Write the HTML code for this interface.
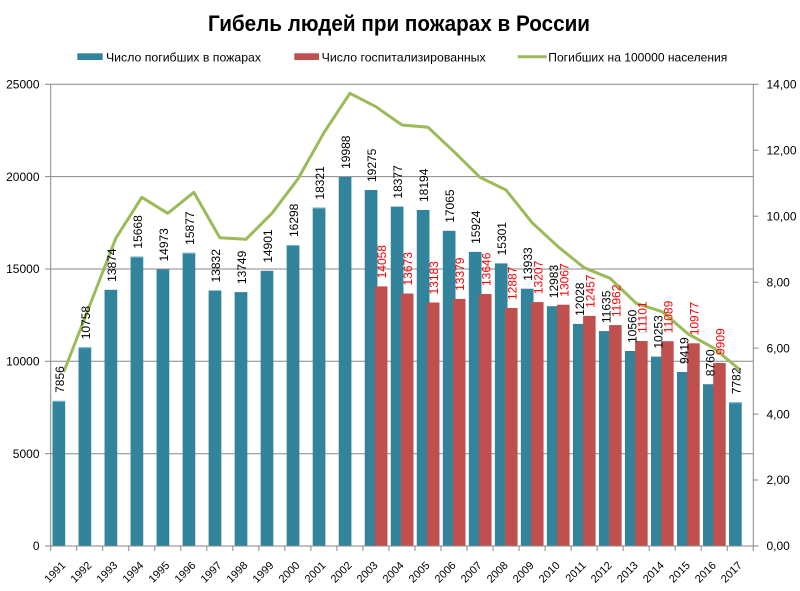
<!DOCTYPE html>
<html>
<head>
<meta charset="utf-8">
<style>
  html,body{margin:0;padding:0;background:#fff;}
  svg{display:block;}
  text{font-family:"Liberation Sans","DejaVu Sans",sans-serif;}
</style>
</head>
<body>
<svg width="800" height="591" viewBox="0 0 800 591" xmlns="http://www.w3.org/2000/svg">
  <rect x="0" y="0" width="800" height="591" fill="#ffffff"/>

  <!-- Title -->
  <text x="208" y="31" font-size="22" font-weight="bold" fill="#000" textLength="382" lengthAdjust="spacingAndGlyphs">Гибель людей при пожарах в России</text>

  <!-- Legend -->
  <rect x="77.3" y="53.3" width="25.4" height="6.7" fill="#31849B"/>
  <text x="106" y="61.5" font-size="12" fill="#000" textLength="155" lengthAdjust="spacingAndGlyphs">Число погибших в пожарах</text>
  <rect x="294.3" y="53.3" width="24.7" height="6.7" fill="#C0504D"/>
  <text x="321.7" y="61.5" font-size="12" fill="#000" textLength="164" lengthAdjust="spacingAndGlyphs">Число госпитализированных</text>
  <line x1="517.7" y1="56.7" x2="546.7" y2="56.7" stroke="#9BBB59" stroke-width="3"/>
  <text x="548.3" y="61.5" font-size="12" fill="#000" textLength="179" lengthAdjust="spacingAndGlyphs">Погибших  на 100000 населения</text>

  <!-- Gridlines -->
  <g stroke="#878787" stroke-width="1">
    <line x1="50.7" y1="84.3" x2="753.3" y2="84.3"/>
    <line x1="50.7" y1="176.6" x2="753.3" y2="176.6"/>
    <line x1="50.7" y1="269" x2="753.3" y2="269"/>
    <line x1="50.7" y1="361.3" x2="753.3" y2="361.3"/>
    <line x1="50.7" y1="453.7" x2="753.3" y2="453.7"/>
  </g>

  <!-- Blue bars -->
  <g fill="#31849B">
    <rect x="52.5" y="400.9" width="12.7" height="145.1"/>
    <rect x="78.52" y="347.3" width="12.7" height="198.7"/>
    <rect x="104.54" y="289.8" width="12.7" height="256.2"/>
    <rect x="130.56" y="256.6" width="12.7" height="289.4"/>
    <rect x="156.58" y="269.5" width="12.7" height="276.5"/>
    <rect x="182.6" y="252.8" width="12.7" height="293.2"/>
    <rect x="208.62" y="290.5" width="12.7" height="255.5"/>
    <rect x="234.64" y="292.1" width="12.7" height="253.9"/>
    <rect x="260.66" y="270.8" width="12.7" height="275.2"/>
    <rect x="286.68" y="245.0" width="12.7" height="301"/>
    <rect x="312.7" y="207.6" width="12.7" height="338.4"/>
    <rect x="338.72" y="176.9" width="12.7" height="369.1"/>
    <rect x="364.74" y="190.0" width="12.7" height="356"/>
    <rect x="390.76" y="206.6" width="12.7" height="339.4"/>
    <rect x="416.78" y="210.0" width="12.7" height="336"/>
    <rect x="442.8" y="230.8" width="12.7" height="315.2"/>
    <rect x="468.82" y="251.9" width="12.7" height="294.1"/>
    <rect x="494.84" y="263.4" width="12.7" height="282.6"/>
    <rect x="520.86" y="288.7" width="12.7" height="257.3"/>
    <rect x="546.88" y="306.2" width="12.7" height="239.8"/>
    <rect x="572.9" y="323.9" width="12.7" height="222.1"/>
    <rect x="598.92" y="331.1" width="12.7" height="214.9"/>
    <rect x="624.94" y="351.0" width="12.7" height="195"/>
    <rect x="650.96" y="356.6" width="12.7" height="189.4"/>
    <rect x="676.98" y="372.0" width="12.7" height="174"/>
    <rect x="703.0" y="384.2" width="12.7" height="161.8"/>
    <rect x="729.02" y="402.3" width="12.7" height="143.7"/>
  </g>
  <!-- Bar top highlights -->
  <g stroke="#6fb7cc" stroke-width="1">
    <line x1="52.5" y1="401.4" x2="65.2" y2="401.4"/>
    <line x1="78.52" y1="347.8" x2="91.22" y2="347.8"/>
    <line x1="130.56" y1="257.1" x2="143.26" y2="257.1"/>
    <line x1="182.6" y1="253.3" x2="195.3" y2="253.3"/>
    <line x1="286.68" y1="245.5" x2="299.38" y2="245.5"/>
    <line x1="312.7" y1="208.1" x2="325.4" y2="208.1"/>
    <line x1="729.02" y1="402.8" x2="741.72" y2="402.8"/>
  </g>

  <!-- Red bars -->
  <g fill="#C0504D">
    <rect x="374.94" y="286.4" width="12.5" height="259.6"/>
    <rect x="400.96" y="293.5" width="12.5" height="252.5"/>
    <rect x="426.98" y="302.5" width="12.5" height="243.5"/>
    <rect x="453.0" y="298.9" width="12.5" height="247.1"/>
    <rect x="479.02" y="294.0" width="12.5" height="252"/>
    <rect x="505.04" y="308.0" width="12.5" height="238"/>
    <rect x="531.06" y="302.1" width="12.5" height="243.9"/>
    <rect x="557.08" y="304.7" width="12.5" height="241.3"/>
    <rect x="583.1" y="315.9" width="12.5" height="230.1"/>
    <rect x="609.12" y="325.1" width="12.5" height="220.9"/>
    <rect x="635.14" y="341.0" width="12.5" height="205"/>
    <rect x="661.16" y="341.2" width="12.5" height="204.8"/>
    <rect x="687.18" y="343.3" width="12.5" height="202.7"/>
    <rect x="713.2" y="363.0" width="12.5" height="183"/>
  </g>

  <!-- Axes -->
  <g stroke="#878787" stroke-width="1">
    <line x1="50.7" y1="84.3" x2="50.7" y2="546"/>
    <line x1="753.3" y1="84.3" x2="753.3" y2="546"/>
    <line x1="50.7" y1="546" x2="753.3" y2="546"/>
    <!-- left ticks -->
    <line x1="45" y1="84.3" x2="50.7" y2="84.3"/>
    <line x1="45" y1="176.6" x2="50.7" y2="176.6"/>
    <line x1="45" y1="269" x2="50.7" y2="269"/>
    <line x1="45" y1="361.3" x2="50.7" y2="361.3"/>
    <line x1="45" y1="453.7" x2="50.7" y2="453.7"/>
    <line x1="45" y1="546" x2="50.7" y2="546"/>
    <!-- right ticks -->
    <line x1="753.3" y1="84.3" x2="758.5" y2="84.3"/>
    <line x1="753.3" y1="150.2" x2="758.5" y2="150.2"/>
    <line x1="753.3" y1="216.2" x2="758.5" y2="216.2"/>
    <line x1="753.3" y1="282.2" x2="758.5" y2="282.2"/>
    <line x1="753.3" y1="348.1" x2="758.5" y2="348.1"/>
    <line x1="753.3" y1="414.1" x2="758.5" y2="414.1"/>
    <line x1="753.3" y1="480" x2="758.5" y2="480"/>
    <line x1="753.3" y1="546" x2="758.5" y2="546"/>
    <!-- category ticks -->
    <line x1="50.7" y1="546" x2="50.7" y2="551"/>
    <line x1="76.72" y1="546" x2="76.72" y2="551"/>
    <line x1="102.74" y1="546" x2="102.74" y2="551"/>
    <line x1="128.76" y1="546" x2="128.76" y2="551"/>
    <line x1="154.78" y1="546" x2="154.78" y2="551"/>
    <line x1="180.8" y1="546" x2="180.8" y2="551"/>
    <line x1="206.82" y1="546" x2="206.82" y2="551"/>
    <line x1="232.84" y1="546" x2="232.84" y2="551"/>
    <line x1="258.86" y1="546" x2="258.86" y2="551"/>
    <line x1="284.88" y1="546" x2="284.88" y2="551"/>
    <line x1="310.9" y1="546" x2="310.9" y2="551"/>
    <line x1="336.92" y1="546" x2="336.92" y2="551"/>
    <line x1="362.94" y1="546" x2="362.94" y2="551"/>
    <line x1="388.96" y1="546" x2="388.96" y2="551"/>
    <line x1="414.98" y1="546" x2="414.98" y2="551"/>
    <line x1="441" y1="546" x2="441" y2="551"/>
    <line x1="467.02" y1="546" x2="467.02" y2="551"/>
    <line x1="493.04" y1="546" x2="493.04" y2="551"/>
    <line x1="519.06" y1="546" x2="519.06" y2="551"/>
    <line x1="545.08" y1="546" x2="545.08" y2="551"/>
    <line x1="571.1" y1="546" x2="571.1" y2="551"/>
    <line x1="597.12" y1="546" x2="597.12" y2="551"/>
    <line x1="623.14" y1="546" x2="623.14" y2="551"/>
    <line x1="649.16" y1="546" x2="649.16" y2="551"/>
    <line x1="675.18" y1="546" x2="675.18" y2="551"/>
    <line x1="701.2" y1="546" x2="701.2" y2="551"/>
    <line x1="727.22" y1="546" x2="727.22" y2="551"/>
    <line x1="753.24" y1="546" x2="753.24" y2="551"/>
  </g>

  <!-- Green line -->
  <polyline fill="none" stroke="#9BBB59" stroke-width="3" stroke-linejoin="round"
    points="63.7,372 89.7,305.5 115.8,238.3 141.8,197.3 167.8,213.3 193.8,192.3 219.8,237.7 245.9,239.3 271.9,213.3 297.9,179 323.9,132.7 349.9,93.3 375.9,106.7 402,125 428,127.3 454,151.7 480,177.3 506,190 532.1,222.7 558.1,246.7 584.1,267.7 610.1,278.3 636.2,303.3 662.2,311.7 688.2,334 714.2,348.3 740.2,370"/>

  <!-- Left axis labels -->
  <g font-size="12" fill="#000" text-anchor="end">
    <text x="39.5" y="88.5">25000</text>
    <text x="39.5" y="180.8">20000</text>
    <text x="39.5" y="273.2">15000</text>
    <text x="39.5" y="365.5">10000</text>
    <text x="39.5" y="457.9">5000</text>
    <text x="39.5" y="550.2">0</text>
  </g>

  <!-- Right axis labels -->
  <g font-size="12" fill="#000">
    <text x="766.5" y="88.5">14,00</text>
    <text x="766.5" y="154.4">12,00</text>
    <text x="766.5" y="220.4">10,00</text>
    <text x="766.5" y="286.4">8,00</text>
    <text x="766.5" y="352.3">6,00</text>
    <text x="766.5" y="418.3">4,00</text>
    <text x="766.5" y="484.2">2,00</text>
    <text x="766.5" y="550.2">0,00</text>
  </g>

  <!-- X axis labels -->
  <g font-size="11" fill="#000" text-anchor="end">
    <text x="66.2" y="566" transform="rotate(-45 66.2 566)">1991</text>
    <text x="92.22" y="566" transform="rotate(-45 92.22 566)">1992</text>
    <text x="118.24" y="566" transform="rotate(-45 118.24 566)">1993</text>
    <text x="144.26" y="566" transform="rotate(-45 144.26 566)">1994</text>
    <text x="170.28" y="566" transform="rotate(-45 170.28 566)">1995</text>
    <text x="196.3" y="566" transform="rotate(-45 196.3 566)">1996</text>
    <text x="222.32" y="566" transform="rotate(-45 222.32 566)">1997</text>
    <text x="248.34" y="566" transform="rotate(-45 248.34 566)">1998</text>
    <text x="274.36" y="566" transform="rotate(-45 274.36 566)">1999</text>
    <text x="300.38" y="566" transform="rotate(-45 300.38 566)">2000</text>
    <text x="326.4" y="566" transform="rotate(-45 326.4 566)">2001</text>
    <text x="352.42" y="566" transform="rotate(-45 352.42 566)">2002</text>
    <text x="378.44" y="566" transform="rotate(-45 378.44 566)">2003</text>
    <text x="404.46" y="566" transform="rotate(-45 404.46 566)">2004</text>
    <text x="430.48" y="566" transform="rotate(-45 430.48 566)">2005</text>
    <text x="456.5" y="566" transform="rotate(-45 456.5 566)">2006</text>
    <text x="482.52" y="566" transform="rotate(-45 482.52 566)">2007</text>
    <text x="508.54" y="566" transform="rotate(-45 508.54 566)">2008</text>
    <text x="534.56" y="566" transform="rotate(-45 534.56 566)">2009</text>
    <text x="560.58" y="566" transform="rotate(-45 560.58 566)">2010</text>
    <text x="586.6" y="566" transform="rotate(-45 586.6 566)">2011</text>
    <text x="612.62" y="566" transform="rotate(-45 612.62 566)">2012</text>
    <text x="638.64" y="566" transform="rotate(-45 638.64 566)">2013</text>
    <text x="664.66" y="566" transform="rotate(-45 664.66 566)">2014</text>
    <text x="690.68" y="566" transform="rotate(-45 690.68 566)">2015</text>
    <text x="716.7" y="566" transform="rotate(-45 716.7 566)">2016</text>
    <text x="742.72" y="566" transform="rotate(-45 742.72 566)">2017</text>
  </g>

  <!-- Blue data labels -->
  <g font-size="12" fill="#000">
    <text x="63.85" y="392.9" transform="rotate(-90 63.85 392.9)">7856</text>
    <text x="89.87" y="339.3" transform="rotate(-90 89.87 339.3)">10758</text>
    <text x="115.89" y="281.8" transform="rotate(-90 115.89 281.8)">13874</text>
    <text x="141.91" y="248.6" transform="rotate(-90 141.91 248.6)">15668</text>
    <text x="167.93" y="261.5" transform="rotate(-90 167.93 261.5)">14973</text>
    <text x="193.95" y="244.8" transform="rotate(-90 193.95 244.8)">15877</text>
    <text x="219.97" y="282.5" transform="rotate(-90 219.97 282.5)">13832</text>
    <text x="245.99" y="284.1" transform="rotate(-90 245.99 284.1)">13749</text>
    <text x="272.01" y="262.8" transform="rotate(-90 272.01 262.8)">14901</text>
    <text x="298.03" y="237" transform="rotate(-90 298.03 237)">16298</text>
    <text x="324.05" y="199.6" transform="rotate(-90 324.05 199.6)">18321</text>
    <text x="350.07" y="168.9" transform="rotate(-90 350.07 168.9)">19988</text>
    <text x="376.09" y="182" transform="rotate(-90 376.09 182)">19275</text>
    <text x="402.11" y="198.6" transform="rotate(-90 402.11 198.6)">18377</text>
    <text x="428.13" y="202" transform="rotate(-90 428.13 202)">18194</text>
    <text x="454.15" y="222.8" transform="rotate(-90 454.15 222.8)">17065</text>
    <text x="480.17" y="243.9" transform="rotate(-90 480.17 243.9)">15924</text>
    <text x="506.19" y="255.4" transform="rotate(-90 506.19 255.4)">15301</text>
    <text x="532.21" y="280.7" transform="rotate(-90 532.21 280.7)">13933</text>
    <text x="558.23" y="298.2" transform="rotate(-90 558.23 298.2)">12983</text>
    <text x="584.25" y="315.9" transform="rotate(-90 584.25 315.9)">12028</text>
    <text x="610.27" y="323.1" transform="rotate(-90 610.27 323.1)">11635</text>
    <text x="636.29" y="343" transform="rotate(-90 636.29 343)">10560</text>
    <text x="662.31" y="348.6" transform="rotate(-90 662.31 348.6)">10253</text>
    <text x="688.33" y="364" transform="rotate(-90 688.33 364)">9419</text>
    <text x="714.35" y="376.2" transform="rotate(-90 714.35 376.2)">8760</text>
    <text x="740.37" y="394.3" transform="rotate(-90 740.37 394.3)">7782</text>
  </g>

  <!-- Red data labels -->
  <g font-size="12" fill="#FF0000">
    <text x="386.19" y="278.4" transform="rotate(-90 386.19 278.4)">14058</text>
    <text x="412.21" y="285.5" transform="rotate(-90 412.21 285.5)">13673</text>
    <text x="438.23" y="294.5" transform="rotate(-90 438.23 294.5)">13183</text>
    <text x="464.25" y="290.9" transform="rotate(-90 464.25 290.9)">13379</text>
    <text x="490.27" y="286" transform="rotate(-90 490.27 286)">13646</text>
    <text x="516.29" y="300" transform="rotate(-90 516.29 300)">12887</text>
    <text x="542.31" y="294.1" transform="rotate(-90 542.31 294.1)">13207</text>
    <text x="568.33" y="296.7" transform="rotate(-90 568.33 296.7)">13067</text>
    <text x="594.35" y="307.9" transform="rotate(-90 594.35 307.9)">12457</text>
    <text x="620.37" y="317.1" transform="rotate(-90 620.37 317.1)">11962</text>
    <text x="646.39" y="333" transform="rotate(-90 646.39 333)">11101</text>
    <text x="672.41" y="333.2" transform="rotate(-90 672.41 333.2)">11089</text>
    <text x="698.43" y="335.3" transform="rotate(-90 698.43 335.3)">10977</text>
    <text x="724.45" y="355" transform="rotate(-90 724.45 355)">9909</text>
  </g>
</svg>
</body>
</html>
